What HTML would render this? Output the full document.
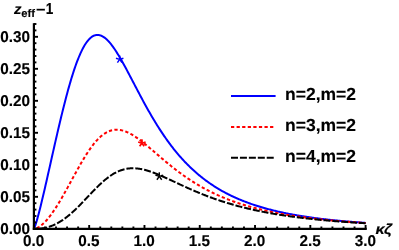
<!DOCTYPE html>
<html><head><meta charset="utf-8"><style>
html,body{margin:0;padding:0;background:#fff;}
svg{display:block;font-family:"Liberation Sans",sans-serif;font-weight:bold;text-rendering:geometricPrecision;}
</style></head><body>
<svg width="399" height="250" viewBox="0 0 399 250">
<rect width="399" height="250" fill="#fff"/>
<g fill="none" stroke-width="2" stroke-linejoin="round">
<path d="M33.90,228.80 L34.73,227.03 L35.56,224.66 L36.39,221.99 L37.23,219.12 L38.06,216.10 L38.89,212.96 L39.72,209.72 L40.55,206.40 L41.38,203.01 L42.21,199.56 L43.04,196.05 L43.88,192.51 L44.71,188.92 L45.54,185.31 L46.37,181.67 L47.20,178.01 L48.03,174.33 L48.86,170.64 L49.70,166.94 L50.53,163.24 L51.36,159.54 L52.19,155.84 L53.02,152.15 L53.85,148.46 L54.68,144.79 L55.51,141.14 L56.35,137.51 L57.18,133.89 L58.01,130.31 L58.84,126.75 L59.67,123.23 L60.50,119.74 L61.33,116.28 L62.17,112.87 L63.00,109.50 L63.83,106.18 L64.66,102.90 L65.49,99.68 L66.32,96.52 L67.15,93.41 L67.98,90.36 L68.82,87.37 L69.65,84.45 L70.48,81.60 L71.31,78.81 L72.14,76.10 L72.97,73.46 L73.80,70.90 L74.64,68.42 L75.47,66.02 L76.30,63.70 L77.13,61.47 L77.96,59.32 L78.79,57.25 L79.62,55.28 L80.45,53.39 L81.29,51.59 L82.12,49.89 L82.95,48.28 L83.78,46.76 L84.61,45.33 L85.44,43.99 L86.27,42.75 L87.11,41.61 L87.94,40.55 L88.77,39.59 L89.60,38.72 L90.43,37.94 L91.26,37.26 L92.09,36.66 L92.92,36.15 L93.76,35.74 L94.59,35.41 L95.42,35.16 L96.25,35.00 L97.08,34.92 L97.91,34.93 L98.74,35.01 L99.57,35.17 L100.41,35.41 L101.24,35.72 L102.07,36.10 L102.90,36.56 L103.73,37.08 L104.56,37.66 L105.39,38.31 L106.23,39.03 L107.06,39.80 L107.89,40.63 L108.72,41.51 L109.55,42.44 L110.38,43.43 L111.21,44.46 L112.04,45.54 L112.88,46.67 L113.71,47.83 L114.54,49.03 L115.37,50.27 L116.20,51.55 L117.03,52.85 L117.86,54.19 L118.70,55.56 L119.53,56.95 L120.36,58.37 L121.19,59.81 L122.02,61.27 L122.85,62.76 L123.68,64.25 L124.51,65.77 L125.35,67.30 L126.18,68.84 L127.01,70.39 L127.84,71.95 L128.67,73.53 L129.50,75.10 L130.33,76.69 L131.17,78.27 L132.00,79.86 L132.83,81.46 L133.66,83.05 L134.49,84.64 L135.32,86.23 L136.15,87.82 L136.98,89.41 L137.82,90.99 L138.65,92.57 L139.48,94.14 L140.31,95.71 L141.14,97.27 L141.97,98.82 L142.80,100.36 L143.64,101.90 L144.47,103.42 L145.30,104.94 L146.13,106.44 L146.96,107.94 L147.79,109.42 L148.62,110.89 L149.45,112.35 L150.29,113.80 L151.12,115.23 L151.95,116.66 L152.78,118.06 L153.61,119.46 L154.44,120.84 L155.27,122.21 L156.11,123.57 L156.94,124.91 L157.77,126.24 L158.60,127.55 L159.43,128.85 L160.26,130.14 L161.09,131.41 L161.92,132.66 L162.76,133.91 L163.59,135.14 L164.42,136.35 L165.25,137.55 L166.08,138.73 L166.91,139.90 L167.74,141.06 L168.58,142.20 L169.41,143.33 L170.24,144.45 L171.07,145.55 L171.90,146.63 L172.73,147.70 L173.56,148.76 L174.39,149.81 L175.23,150.84 L176.06,151.86 L176.89,152.86 L177.72,153.85 L178.55,154.83 L179.38,155.79 L180.21,156.75 L181.05,157.68 L181.88,158.61 L182.71,159.53 L183.54,160.43 L184.37,161.32 L185.20,162.19 L186.03,163.06 L186.86,163.91 L187.70,164.75 L188.53,165.58 L189.36,166.40 L190.19,167.21 L191.02,168.01 L191.85,168.79 L192.68,169.56 L193.52,170.33 L194.35,171.08 L195.18,171.82 L196.01,172.55 L196.84,173.28 L197.67,173.99 L198.50,174.69 L199.33,175.38 L200.17,176.06 L201.00,176.73 L201.83,177.40 L202.66,178.05 L203.49,178.69 L204.32,179.33 L205.15,179.96 L205.98,180.57 L206.82,181.18 L207.65,181.78 L208.48,182.38 L209.31,182.96 L210.14,183.53 L210.97,184.10 L211.80,184.66 L212.64,185.21 L213.47,185.76 L214.30,186.29 L215.13,186.82 L215.96,187.34 L216.79,187.86 L217.62,188.36 L218.45,188.86 L219.29,189.36 L220.12,189.84 L220.95,190.32 L221.78,190.79 L222.61,191.26 L223.44,191.72 L224.27,192.17 L225.11,192.62 L225.94,193.06 L226.77,193.49 L227.60,193.92 L228.43,194.35 L229.26,194.76 L230.09,195.17 L230.92,195.58 L231.76,195.98 L232.59,196.37 L233.42,196.76 L234.25,197.15 L235.08,197.52 L235.91,197.90 L236.74,198.27 L237.58,198.63 L238.41,198.99 L239.24,199.34 L240.07,199.69 L240.90,200.03 L241.73,200.37 L242.56,200.71 L243.39,201.04 L244.23,201.36 L245.06,201.68 L245.89,202.00 L246.72,202.31 L247.55,202.62 L248.38,202.93 L249.21,203.23 L250.05,203.52 L250.88,203.82 L251.71,204.10 L252.54,204.39 L253.37,204.67 L254.20,204.95 L255.03,205.22 L255.86,205.49 L256.70,205.76 L257.53,206.02 L258.36,206.28 L259.19,206.54 L260.02,206.79 L260.85,207.04 L261.68,207.28 L262.52,207.53 L263.35,207.77 L264.18,208.00 L265.01,208.24 L265.84,208.47 L266.67,208.70 L267.50,208.92 L268.33,209.14 L269.17,209.36 L270.00,209.58 L270.83,209.79 L271.66,210.00 L272.49,210.21 L273.32,210.42 L274.15,210.62 L274.99,210.82 L275.82,211.02 L276.65,211.21 L277.48,211.41 L278.31,211.60 L279.14,211.78 L279.97,211.97 L280.80,212.15 L281.64,212.33 L282.47,212.51 L283.30,212.69 L284.13,212.86 L284.96,213.04 L285.79,213.21 L286.62,213.37 L287.46,213.54 L288.29,213.70 L289.12,213.87 L289.95,214.03 L290.78,214.18 L291.61,214.34 L292.44,214.49 L293.27,214.65 L294.11,214.80 L294.94,214.94 L295.77,215.09 L296.60,215.24 L297.43,215.38 L298.26,215.52 L299.09,215.66 L299.93,215.80 L300.76,215.93 L301.59,216.07 L302.42,216.20 L303.25,216.33 L304.08,216.46 L304.91,216.59 L305.74,216.72 L306.58,216.85 L307.41,216.97 L308.24,217.09 L309.07,217.21 L309.90,217.33 L310.73,217.45 L311.56,217.57 L312.39,217.68 L313.23,217.80 L314.06,217.91 L314.89,218.02 L315.72,218.13 L316.55,218.24 L317.38,218.35 L318.21,218.45 L319.05,218.56 L319.88,218.66 L320.71,218.77 L321.54,218.87 L322.37,218.97 L323.20,219.07 L324.03,219.16 L324.86,219.26 L325.70,219.36 L326.53,219.45 L327.36,219.54 L328.19,219.64 L329.02,219.73 L329.85,219.82 L330.68,219.91 L331.52,220.00 L332.35,220.08 L333.18,220.17 L334.01,220.26 L334.84,220.34 L335.67,220.42 L336.50,220.51 L337.33,220.59 L338.17,220.67 L339.00,220.75 L339.83,220.83 L340.66,220.91 L341.49,220.98 L342.32,221.06 L343.15,221.14 L343.99,221.21 L344.82,221.28 L345.65,221.36 L346.48,221.43 L347.31,221.50 L348.14,221.57 L348.97,221.64 L349.80,221.71 L350.64,221.78 L351.47,221.85 L352.30,221.91 L353.13,221.98 L353.96,222.05 L354.79,222.11 L355.62,222.17 L356.46,222.24 L357.29,222.30 L358.12,222.36 L358.95,222.42 L359.78,222.48 L360.61,222.54 L361.44,222.60 L362.27,222.66 L363.11,222.72 L363.94,222.78 L364.77,222.84 L365.60,222.89" stroke="#0000ff"/>
<path d="M33.90,228.80 L34.73,228.72 L35.56,228.53 L36.39,228.27 L37.23,227.92 L38.06,227.51 L38.89,227.04 L39.72,226.51 L40.55,225.92 L41.38,225.28 L42.21,224.59 L43.04,223.85 L43.88,223.07 L44.71,222.24 L45.54,221.37 L46.37,220.46 L47.20,219.51 L48.03,218.52 L48.86,217.50 L49.70,216.44 L50.53,215.35 L51.36,214.23 L52.19,213.07 L53.02,211.89 L53.85,210.68 L54.68,209.43 L55.51,208.17 L56.35,206.88 L57.18,205.56 L58.01,204.22 L58.84,202.87 L59.67,201.49 L60.50,200.09 L61.33,198.67 L62.17,197.24 L63.00,195.79 L63.83,194.33 L64.66,192.86 L65.49,191.37 L66.32,189.88 L67.15,188.38 L67.98,186.86 L68.82,185.35 L69.65,183.83 L70.48,182.30 L71.31,180.77 L72.14,179.25 L72.97,177.72 L73.80,176.20 L74.64,174.68 L75.47,173.16 L76.30,171.65 L77.13,170.15 L77.96,168.66 L78.79,167.18 L79.62,165.72 L80.45,164.26 L81.29,162.82 L82.12,161.40 L82.95,160.00 L83.78,158.62 L84.61,157.25 L85.44,155.91 L86.27,154.60 L87.11,153.30 L87.94,152.04 L88.77,150.80 L89.60,149.58 L90.43,148.40 L91.26,147.25 L92.09,146.13 L92.92,145.04 L93.76,143.98 L94.59,142.96 L95.42,141.98 L96.25,141.03 L97.08,140.11 L97.91,139.24 L98.74,138.40 L99.57,137.59 L100.41,136.83 L101.24,136.10 L102.07,135.42 L102.90,134.77 L103.73,134.16 L104.56,133.60 L105.39,133.07 L106.23,132.58 L107.06,132.13 L107.89,131.72 L108.72,131.35 L109.55,131.02 L110.38,130.73 L111.21,130.47 L112.04,130.26 L112.88,130.08 L113.71,129.93 L114.54,129.83 L115.37,129.76 L116.20,129.72 L117.03,129.72 L117.86,129.75 L118.70,129.82 L119.53,129.91 L120.36,130.04 L121.19,130.20 L122.02,130.39 L122.85,130.61 L123.68,130.86 L124.51,131.13 L125.35,131.43 L126.18,131.76 L127.01,132.11 L127.84,132.48 L128.67,132.88 L129.50,133.30 L130.33,133.74 L131.17,134.20 L132.00,134.68 L132.83,135.17 L133.66,135.69 L134.49,136.22 L135.32,136.77 L136.15,137.33 L136.98,137.91 L137.82,138.50 L138.65,139.10 L139.48,139.71 L140.31,140.34 L141.14,140.97 L141.97,141.62 L142.80,142.27 L143.64,142.93 L144.47,143.60 L145.30,144.28 L146.13,144.96 L146.96,145.65 L147.79,146.34 L148.62,147.04 L149.45,147.74 L150.29,148.45 L151.12,149.15 L151.95,149.86 L152.78,150.58 L153.61,151.29 L154.44,152.00 L155.27,152.72 L156.11,153.44 L156.94,154.15 L157.77,154.87 L158.60,155.58 L159.43,156.29 L160.26,157.00 L161.09,157.71 L161.92,158.42 L162.76,159.13 L163.59,159.83 L164.42,160.53 L165.25,161.23 L166.08,161.92 L166.91,162.61 L167.74,163.30 L168.58,163.98 L169.41,164.66 L170.24,165.33 L171.07,166.00 L171.90,166.67 L172.73,167.33 L173.56,167.98 L174.39,168.64 L175.23,169.28 L176.06,169.92 L176.89,170.56 L177.72,171.19 L178.55,171.82 L179.38,172.44 L180.21,173.05 L181.05,173.66 L181.88,174.27 L182.71,174.87 L183.54,175.46 L184.37,176.05 L185.20,176.63 L186.03,177.20 L186.86,177.78 L187.70,178.34 L188.53,178.90 L189.36,179.45 L190.19,180.00 L191.02,180.54 L191.85,181.08 L192.68,181.61 L193.52,182.14 L194.35,182.66 L195.18,183.17 L196.01,183.68 L196.84,184.19 L197.67,184.68 L198.50,185.18 L199.33,185.66 L200.17,186.14 L201.00,186.62 L201.83,187.09 L202.66,187.56 L203.49,188.02 L204.32,188.47 L205.15,188.92 L205.98,189.37 L206.82,189.81 L207.65,190.24 L208.48,190.67 L209.31,191.09 L210.14,191.51 L210.97,191.93 L211.80,192.34 L212.64,192.74 L213.47,193.14 L214.30,193.54 L215.13,193.93 L215.96,194.32 L216.79,194.70 L217.62,195.07 L218.45,195.45 L219.29,195.81 L220.12,196.18 L220.95,196.54 L221.78,196.89 L222.61,197.24 L223.44,197.59 L224.27,197.93 L225.11,198.27 L225.94,198.60 L226.77,198.93 L227.60,199.26 L228.43,199.58 L229.26,199.90 L230.09,200.22 L230.92,200.53 L231.76,200.83 L232.59,201.14 L233.42,201.44 L234.25,201.73 L235.08,202.03 L235.91,202.31 L236.74,202.60 L237.58,202.88 L238.41,203.16 L239.24,203.44 L240.07,203.71 L240.90,203.98 L241.73,204.24 L242.56,204.50 L243.39,204.76 L244.23,205.02 L245.06,205.27 L245.89,205.52 L246.72,205.77 L247.55,206.01 L248.38,206.25 L249.21,206.49 L250.05,206.73 L250.88,206.96 L251.71,207.19 L252.54,207.42 L253.37,207.64 L254.20,207.86 L255.03,208.08 L255.86,208.30 L256.70,208.51 L257.53,208.72 L258.36,208.93 L259.19,209.14 L260.02,209.34 L260.85,209.54 L261.68,209.74 L262.52,209.94 L263.35,210.13 L264.18,210.32 L265.01,210.51 L265.84,210.70 L266.67,210.89 L267.50,211.07 L268.33,211.25 L269.17,211.43 L270.00,211.61 L270.83,211.78 L271.66,211.96 L272.49,212.13 L273.32,212.30 L274.15,212.46 L274.99,212.63 L275.82,212.79 L276.65,212.95 L277.48,213.11 L278.31,213.27 L279.14,213.42 L279.97,213.58 L280.80,213.73 L281.64,213.88 L282.47,214.03 L283.30,214.18 L284.13,214.32 L284.96,214.46 L285.79,214.61 L286.62,214.75 L287.46,214.89 L288.29,215.02 L289.12,215.16 L289.95,215.29 L290.78,215.42 L291.61,215.56 L292.44,215.69 L293.27,215.81 L294.11,215.94 L294.94,216.07 L295.77,216.19 L296.60,216.31 L297.43,216.43 L298.26,216.55 L299.09,216.67 L299.93,216.79 L300.76,216.90 L301.59,217.02 L302.42,217.13 L303.25,217.24 L304.08,217.36 L304.91,217.47 L305.74,217.57 L306.58,217.68 L307.41,217.79 L308.24,217.89 L309.07,218.00 L309.90,218.10 L310.73,218.20 L311.56,218.30 L312.39,218.40 L313.23,218.50 L314.06,218.59 L314.89,218.69 L315.72,218.79 L316.55,218.88 L317.38,218.97 L318.21,219.07 L319.05,219.16 L319.88,219.25 L320.71,219.34 L321.54,219.42 L322.37,219.51 L323.20,219.60 L324.03,219.68 L324.86,219.77 L325.70,219.85 L326.53,219.93 L327.36,220.02 L328.19,220.10 L329.02,220.18 L329.85,220.26 L330.68,220.33 L331.52,220.41 L332.35,220.49 L333.18,220.56 L334.01,220.64 L334.84,220.71 L335.67,220.79 L336.50,220.86 L337.33,220.93 L338.17,221.00 L339.00,221.07 L339.83,221.14 L340.66,221.21 L341.49,221.28 L342.32,221.35 L343.15,221.42 L343.99,221.48 L344.82,221.55 L345.65,221.61 L346.48,221.68 L347.31,221.74 L348.14,221.81 L348.97,221.87 L349.80,221.93 L350.64,221.99 L351.47,222.05 L352.30,222.11 L353.13,222.17 L353.96,222.23 L354.79,222.29 L355.62,222.34 L356.46,222.40 L357.29,222.46 L358.12,222.51 L358.95,222.57 L359.78,222.62 L360.61,222.68 L361.44,222.73 L362.27,222.78 L363.11,222.84 L363.94,222.89 L364.77,222.94 L365.60,222.99" stroke="#ff0000" stroke-dasharray="3.25 2.33" stroke-dashoffset="2.8"/>
<path d="M33.90,228.80 L34.73,228.80 L35.56,228.79 L36.39,228.77 L37.23,228.75 L38.06,228.71 L38.89,228.66 L39.72,228.59 L40.55,228.51 L41.38,228.42 L42.21,228.31 L43.04,228.19 L43.88,228.05 L44.71,227.89 L45.54,227.72 L46.37,227.53 L47.20,227.32 L48.03,227.09 L48.86,226.84 L49.70,226.58 L50.53,226.30 L51.36,226.00 L52.19,225.68 L53.02,225.34 L53.85,224.98 L54.68,224.60 L55.51,224.21 L56.35,223.79 L57.18,223.36 L58.01,222.91 L58.84,222.44 L59.67,221.95 L60.50,221.44 L61.33,220.92 L62.17,220.37 L63.00,219.81 L63.83,219.23 L64.66,218.63 L65.49,218.02 L66.32,217.39 L67.15,216.74 L67.98,216.08 L68.82,215.40 L69.65,214.70 L70.48,213.99 L71.31,213.27 L72.14,212.53 L72.97,211.78 L73.80,211.01 L74.64,210.23 L75.47,209.44 L76.30,208.64 L77.13,207.83 L77.96,207.01 L78.79,206.18 L79.62,205.34 L80.45,204.50 L81.29,203.64 L82.12,202.78 L82.95,201.92 L83.78,201.05 L84.61,200.17 L85.44,199.29 L86.27,198.42 L87.11,197.53 L87.94,196.65 L88.77,195.77 L89.60,194.89 L90.43,194.02 L91.26,193.14 L92.09,192.27 L92.92,191.41 L93.76,190.55 L94.59,189.69 L95.42,188.85 L96.25,188.01 L97.08,187.18 L97.91,186.37 L98.74,185.56 L99.57,184.77 L100.41,183.98 L101.24,183.21 L102.07,182.46 L102.90,181.72 L103.73,180.99 L104.56,180.28 L105.39,179.59 L106.23,178.92 L107.06,178.26 L107.89,177.62 L108.72,177.00 L109.55,176.40 L110.38,175.82 L111.21,175.27 L112.04,174.73 L112.88,174.21 L113.71,173.71 L114.54,173.24 L115.37,172.78 L116.20,172.35 L117.03,171.94 L117.86,171.55 L118.70,171.19 L119.53,170.85 L120.36,170.52 L121.19,170.22 L122.02,169.95 L122.85,169.69 L123.68,169.46 L124.51,169.25 L125.35,169.06 L126.18,168.89 L127.01,168.74 L127.84,168.61 L128.67,168.50 L129.50,168.42 L130.33,168.35 L131.17,168.30 L132.00,168.27 L132.83,168.26 L133.66,168.27 L134.49,168.29 L135.32,168.33 L136.15,168.39 L136.98,168.47 L137.82,168.56 L138.65,168.66 L139.48,168.79 L140.31,168.92 L141.14,169.07 L141.97,169.24 L142.80,169.42 L143.64,169.61 L144.47,169.81 L145.30,170.02 L146.13,170.25 L146.96,170.48 L147.79,170.73 L148.62,170.99 L149.45,171.25 L150.29,171.53 L151.12,171.81 L151.95,172.11 L152.78,172.41 L153.61,172.71 L154.44,173.03 L155.27,173.35 L156.11,173.68 L156.94,174.01 L157.77,174.35 L158.60,174.69 L159.43,175.04 L160.26,175.40 L161.09,175.76 L161.92,176.12 L162.76,176.48 L163.59,176.85 L164.42,177.22 L165.25,177.60 L166.08,177.97 L166.91,178.35 L167.74,178.73 L168.58,179.12 L169.41,179.50 L170.24,179.89 L171.07,180.27 L171.90,180.66 L172.73,181.05 L173.56,181.44 L174.39,181.83 L175.23,182.21 L176.06,182.60 L176.89,182.99 L177.72,183.38 L178.55,183.77 L179.38,184.15 L180.21,184.54 L181.05,184.93 L181.88,185.31 L182.71,185.69 L183.54,186.07 L184.37,186.45 L185.20,186.83 L186.03,187.21 L186.86,187.59 L187.70,187.96 L188.53,188.33 L189.36,188.70 L190.19,189.07 L191.02,189.44 L191.85,189.80 L192.68,190.16 L193.52,190.52 L194.35,190.88 L195.18,191.23 L196.01,191.59 L196.84,191.94 L197.67,192.29 L198.50,192.63 L199.33,192.97 L200.17,193.31 L201.00,193.65 L201.83,193.99 L202.66,194.32 L203.49,194.65 L204.32,194.98 L205.15,195.30 L205.98,195.63 L206.82,195.95 L207.65,196.26 L208.48,196.58 L209.31,196.89 L210.14,197.20 L210.97,197.50 L211.80,197.81 L212.64,198.11 L213.47,198.41 L214.30,198.70 L215.13,199.00 L215.96,199.29 L216.79,199.57 L217.62,199.86 L218.45,200.14 L219.29,200.42 L220.12,200.70 L220.95,200.97 L221.78,201.25 L222.61,201.51 L223.44,201.78 L224.27,202.05 L225.11,202.31 L225.94,202.57 L226.77,202.82 L227.60,203.08 L228.43,203.33 L229.26,203.58 L230.09,203.82 L230.92,204.07 L231.76,204.31 L232.59,204.55 L233.42,204.79 L234.25,205.02 L235.08,205.25 L235.91,205.48 L236.74,205.71 L237.58,205.94 L238.41,206.16 L239.24,206.38 L240.07,206.60 L240.90,206.81 L241.73,207.03 L242.56,207.24 L243.39,207.45 L244.23,207.66 L245.06,207.86 L245.89,208.07 L246.72,208.27 L247.55,208.47 L248.38,208.66 L249.21,208.86 L250.05,209.05 L250.88,209.24 L251.71,209.43 L252.54,209.62 L253.37,209.80 L254.20,209.99 L255.03,210.17 L255.86,210.35 L256.70,210.52 L257.53,210.70 L258.36,210.87 L259.19,211.05 L260.02,211.22 L260.85,211.39 L261.68,211.55 L262.52,211.72 L263.35,211.88 L264.18,212.04 L265.01,212.20 L265.84,212.36 L266.67,212.52 L267.50,212.67 L268.33,212.83 L269.17,212.98 L270.00,213.13 L270.83,213.28 L271.66,213.42 L272.49,213.57 L273.32,213.71 L274.15,213.86 L274.99,214.00 L275.82,214.14 L276.65,214.28 L277.48,214.41 L278.31,214.55 L279.14,214.68 L279.97,214.81 L280.80,214.95 L281.64,215.08 L282.47,215.20 L283.30,215.33 L284.13,215.46 L284.96,215.58 L285.79,215.71 L286.62,215.83 L287.46,215.95 L288.29,216.07 L289.12,216.19 L289.95,216.30 L290.78,216.42 L291.61,216.53 L292.44,216.65 L293.27,216.76 L294.11,216.87 L294.94,216.98 L295.77,217.09 L296.60,217.20 L297.43,217.31 L298.26,217.41 L299.09,217.52 L299.93,217.62 L300.76,217.72 L301.59,217.82 L302.42,217.92 L303.25,218.02 L304.08,218.12 L304.91,218.22 L305.74,218.32 L306.58,218.41 L307.41,218.51 L308.24,218.60 L309.07,218.69 L309.90,218.78 L310.73,218.87 L311.56,218.96 L312.39,219.05 L313.23,219.14 L314.06,219.23 L314.89,219.31 L315.72,219.40 L316.55,219.49 L317.38,219.57 L318.21,219.65 L319.05,219.73 L319.88,219.82 L320.71,219.90 L321.54,219.98 L322.37,220.05 L323.20,220.13 L324.03,220.21 L324.86,220.29 L325.70,220.36 L326.53,220.44 L327.36,220.51 L328.19,220.59 L329.02,220.66 L329.85,220.73 L330.68,220.80 L331.52,220.87 L332.35,220.94 L333.18,221.01 L334.01,221.08 L334.84,221.15 L335.67,221.22 L336.50,221.28 L337.33,221.35 L338.17,221.41 L339.00,221.48 L339.83,221.54 L340.66,221.61 L341.49,221.67 L342.32,221.73 L343.15,221.79 L343.99,221.86 L344.82,221.92 L345.65,221.98 L346.48,222.04 L347.31,222.09 L348.14,222.15 L348.97,222.21 L349.80,222.27 L350.64,222.32 L351.47,222.38 L352.30,222.44 L353.13,222.49 L353.96,222.55 L354.79,222.60 L355.62,222.65 L356.46,222.71 L357.29,222.76 L358.12,222.81 L358.95,222.86 L359.78,222.91 L360.61,222.96 L361.44,223.01 L362.27,223.06 L363.11,223.11 L363.94,223.16 L364.77,223.21 L365.60,223.26" stroke="#000" stroke-dasharray="7 1.93" stroke-dashoffset="2.7"/>
</g>
<line x1="119.70" y1="59.40" x2="119.70" y2="55.50" stroke="#0000ff" stroke-width="1.45"/><line x1="119.70" y1="59.40" x2="123.41" y2="58.19" stroke="#0000ff" stroke-width="1.45"/><line x1="119.70" y1="59.40" x2="115.99" y2="58.19" stroke="#0000ff" stroke-width="1.45"/><line x1="119.70" y1="59.40" x2="121.99" y2="62.56" stroke="#0000ff" stroke-width="1.45"/><line x1="119.70" y1="59.40" x2="117.41" y2="62.56" stroke="#0000ff" stroke-width="1.45"/><line x1="141.90" y1="143.20" x2="141.90" y2="139.30" stroke="#ff0000" stroke-width="1.7"/><line x1="141.90" y1="143.20" x2="145.61" y2="141.99" stroke="#ff0000" stroke-width="1.7"/><line x1="141.90" y1="143.20" x2="138.19" y2="141.99" stroke="#ff0000" stroke-width="1.7"/><line x1="141.90" y1="143.20" x2="144.19" y2="146.36" stroke="#ff0000" stroke-width="1.7"/><line x1="141.90" y1="143.20" x2="139.61" y2="146.36" stroke="#ff0000" stroke-width="1.7"/><line x1="159.30" y1="176.40" x2="159.30" y2="172.30" stroke="#000" stroke-width="1.45"/><line x1="159.30" y1="176.40" x2="163.20" y2="175.13" stroke="#000" stroke-width="1.45"/><line x1="159.30" y1="176.40" x2="155.40" y2="175.13" stroke="#000" stroke-width="1.45"/><line x1="159.30" y1="176.40" x2="161.71" y2="179.72" stroke="#000" stroke-width="1.45"/><line x1="159.30" y1="176.40" x2="156.89" y2="179.72" stroke="#000" stroke-width="1.45"/>
<g stroke="#000" stroke-width="2.2" fill="none">
<line x1="33.9" y1="23.20" x2="33.9" y2="229.9"/>
<line x1="32.8" y1="228.8" x2="366.8" y2="228.8"/>
</g>
<g stroke="#000" stroke-width="1.9"><line x1="33.90" y1="228.80" x2="38.00" y2="228.80"/><line x1="33.90" y1="222.40" x2="36.40" y2="222.40"/><line x1="33.90" y1="216.00" x2="36.40" y2="216.00"/><line x1="33.90" y1="209.60" x2="36.40" y2="209.60"/><line x1="33.90" y1="203.20" x2="36.40" y2="203.20"/><line x1="33.90" y1="196.80" x2="38.00" y2="196.80"/><line x1="33.90" y1="190.40" x2="36.40" y2="190.40"/><line x1="33.90" y1="184.00" x2="36.40" y2="184.00"/><line x1="33.90" y1="177.60" x2="36.40" y2="177.60"/><line x1="33.90" y1="171.20" x2="36.40" y2="171.20"/><line x1="33.90" y1="164.80" x2="38.00" y2="164.80"/><line x1="33.90" y1="158.40" x2="36.40" y2="158.40"/><line x1="33.90" y1="152.00" x2="36.40" y2="152.00"/><line x1="33.90" y1="145.60" x2="36.40" y2="145.60"/><line x1="33.90" y1="139.20" x2="36.40" y2="139.20"/><line x1="33.90" y1="132.80" x2="38.00" y2="132.80"/><line x1="33.90" y1="126.40" x2="36.40" y2="126.40"/><line x1="33.90" y1="120.00" x2="36.40" y2="120.00"/><line x1="33.90" y1="113.60" x2="36.40" y2="113.60"/><line x1="33.90" y1="107.20" x2="36.40" y2="107.20"/><line x1="33.90" y1="100.80" x2="38.00" y2="100.80"/><line x1="33.90" y1="94.40" x2="36.40" y2="94.40"/><line x1="33.90" y1="88.00" x2="36.40" y2="88.00"/><line x1="33.90" y1="81.60" x2="36.40" y2="81.60"/><line x1="33.90" y1="75.20" x2="36.40" y2="75.20"/><line x1="33.90" y1="68.80" x2="38.00" y2="68.80"/><line x1="33.90" y1="62.40" x2="36.40" y2="62.40"/><line x1="33.90" y1="56.00" x2="36.40" y2="56.00"/><line x1="33.90" y1="49.60" x2="36.40" y2="49.60"/><line x1="33.90" y1="43.20" x2="36.40" y2="43.20"/><line x1="33.90" y1="36.80" x2="38.00" y2="36.80"/><line x1="33.90" y1="30.40" x2="36.40" y2="30.40"/><line x1="33.90" y1="24.00" x2="36.40" y2="24.00"/><line x1="33.90" y1="228.80" x2="33.90" y2="225.00"/><line x1="44.96" y1="228.80" x2="44.96" y2="226.50"/><line x1="56.01" y1="228.80" x2="56.01" y2="226.50"/><line x1="67.07" y1="228.80" x2="67.07" y2="226.50"/><line x1="78.13" y1="228.80" x2="78.13" y2="226.50"/><line x1="89.18" y1="228.80" x2="89.18" y2="225.00"/><line x1="100.24" y1="228.80" x2="100.24" y2="226.50"/><line x1="111.30" y1="228.80" x2="111.30" y2="226.50"/><line x1="122.35" y1="228.80" x2="122.35" y2="226.50"/><line x1="133.41" y1="228.80" x2="133.41" y2="226.50"/><line x1="144.47" y1="228.80" x2="144.47" y2="225.00"/><line x1="155.52" y1="228.80" x2="155.52" y2="226.50"/><line x1="166.58" y1="228.80" x2="166.58" y2="226.50"/><line x1="177.64" y1="228.80" x2="177.64" y2="226.50"/><line x1="188.69" y1="228.80" x2="188.69" y2="226.50"/><line x1="199.75" y1="228.80" x2="199.75" y2="225.00"/><line x1="210.81" y1="228.80" x2="210.81" y2="226.50"/><line x1="221.86" y1="228.80" x2="221.86" y2="226.50"/><line x1="232.92" y1="228.80" x2="232.92" y2="226.50"/><line x1="243.98" y1="228.80" x2="243.98" y2="226.50"/><line x1="255.03" y1="228.80" x2="255.03" y2="225.00"/><line x1="266.09" y1="228.80" x2="266.09" y2="226.50"/><line x1="277.15" y1="228.80" x2="277.15" y2="226.50"/><line x1="288.20" y1="228.80" x2="288.20" y2="226.50"/><line x1="299.26" y1="228.80" x2="299.26" y2="226.50"/><line x1="310.32" y1="228.80" x2="310.32" y2="225.00"/><line x1="321.37" y1="228.80" x2="321.37" y2="226.50"/><line x1="332.43" y1="228.80" x2="332.43" y2="226.50"/><line x1="343.49" y1="228.80" x2="343.49" y2="226.50"/><line x1="354.54" y1="228.80" x2="354.54" y2="226.50"/><line x1="365.60" y1="228.80" x2="365.60" y2="225.00"/></g>
<g fill="#000" stroke="#000" stroke-width="0.14" style="will-change:transform"><text transform="translate(30.10,234.05) scale(0.98,1)" font-size="15.6" text-anchor="end" >0.00</text><text transform="translate(30.10,202.05) scale(0.98,1)" font-size="15.6" text-anchor="end" >0.05</text><text transform="translate(30.10,170.05) scale(0.98,1)" font-size="15.6" text-anchor="end" >0.10</text><text transform="translate(30.10,138.05) scale(0.98,1)" font-size="15.6" text-anchor="end" >0.15</text><text transform="translate(30.10,106.05) scale(0.98,1)" font-size="15.6" text-anchor="end" >0.20</text><text transform="translate(30.10,74.05) scale(0.98,1)" font-size="15.6" text-anchor="end" >0.25</text><text transform="translate(30.10,42.05) scale(0.98,1)" font-size="15.6" text-anchor="end" >0.30</text><text transform="translate(33.60,246.15) scale(0.98,1)" font-size="15.6" text-anchor="middle" >0.0</text><text transform="translate(88.88,246.15) scale(0.98,1)" font-size="15.6" text-anchor="middle" >0.5</text><text transform="translate(144.17,246.15) scale(0.98,1)" font-size="15.6" text-anchor="middle" >1.0</text><text transform="translate(199.45,246.15) scale(0.98,1)" font-size="15.6" text-anchor="middle" >1.5</text><text transform="translate(254.73,246.15) scale(0.98,1)" font-size="15.6" text-anchor="middle" >2.0</text><text transform="translate(310.02,246.15) scale(0.98,1)" font-size="15.6" text-anchor="middle" >2.5</text><text transform="translate(365.30,246.15) scale(0.98,1)" font-size="15.6" text-anchor="middle" >3.0</text><line x1="231.0" y1="96.0" x2="275.6" y2="96.0" stroke="#0000ff" stroke-width="2" /><line x1="231.0" y1="126.9" x2="275.6" y2="126.9" stroke="#ff0000" stroke-width="2" stroke-dasharray="3.25 2.33"/><line x1="231.0" y1="157.7" x2="275.6" y2="157.7" stroke="#000000" stroke-width="2" stroke-dasharray="7 1.93"/><text transform="translate(285.00,100.40) scale(1.0,1)" font-size="17.5" text-anchor="start" >n=2,m=2</text><text transform="translate(285.00,131.20) scale(1.0,1)" font-size="17.5" text-anchor="start" >n=3,m=2</text><text transform="translate(285.00,162.00) scale(1.0,1)" font-size="17.5" text-anchor="start" >n=4,m=2</text>
<text transform="translate(14.1,13.8) scale(1.04,1)" font-size="14.4" font-style="italic">z</text>
<text transform="translate(21.2,16.5) scale(1.02,1)" font-size="11">eff</text>
<text transform="translate(36.1,15.07) scale(1.02,1)" font-size="16">−</text>
<text transform="translate(45.7,13.7) scale(0.85,1)" font-size="16">1</text>
<text transform="translate(375.5,233.6) scale(1.12,1)" font-size="14.4" font-style="italic">κζ</text>
</g>
</svg>
</body></html>
